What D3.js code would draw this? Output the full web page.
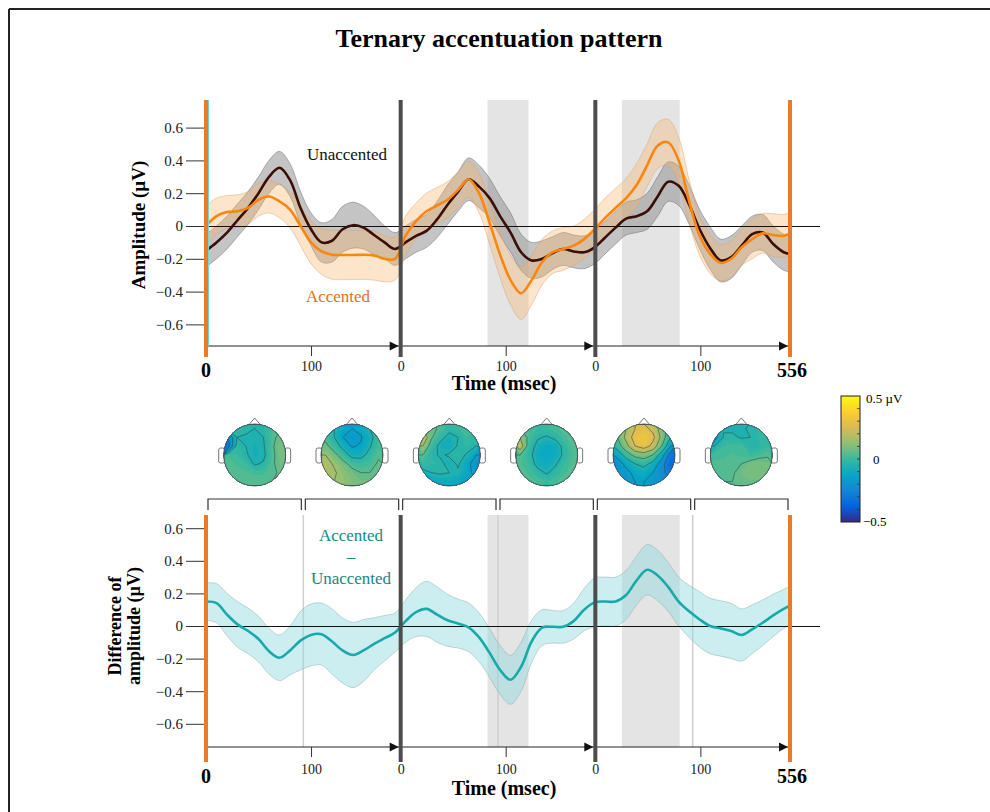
<!DOCTYPE html>
<html>
<head>
<meta charset="utf-8">
<script src="https://cdn.jsdelivr.net/npm/d3@7"></script>
<style>
  body { margin: 0; background: #fff; }
  svg { font-family: "Liberation Serif", "Times New Roman", serif; }
</style>
</head>
<body>
<svg width="990" height="812"></svg>
<script>
// ---- data ----
// shared time grid in ms (three beats of 185.3 ms each)
var times = [0,10,20,30,40,50,60,70,80,90,100,110,120,130,140,150,160,170,180,190,
  200,210,220,230,240,250,260,270,280,290,300,310,320,330,340,350,360,370,380,390,
  400,410,420,430,440,450,460,470,480,490,500,510,520,530,540,550,556];

var unaccented = [-0.15,-0.10,-0.04,0.035,0.11,0.20,0.30,0.355,0.28,0.11,-0.02,-0.10,-0.09,-0.02,0.005,-0.01,-0.055,-0.10,-0.14,-0.10,
  -0.06,-0.03,0.04,0.13,0.21,0.285,0.24,0.17,0.06,-0.04,-0.16,-0.21,-0.20,-0.165,-0.14,-0.155,-0.16,-0.13,-0.07,-0.01,
  0.045,0.06,0.09,0.18,0.27,0.245,0.13,-0.02,-0.135,-0.21,-0.19,-0.12,-0.05,-0.04,-0.11,-0.16,-0.17];
var unaccentedErr = [0.10,0.10,0.10,0.10,0.10,0.10,0.10,0.10,0.10,0.10,0.10,0.12,0.13,0.14,0.14,0.13,0.12,0.10,0.10,0.10,
  0.10,0.10,0.11,0.12,0.12,0.13,0.13,0.12,0.12,0.12,0.11,0.11,0.11,0.10,0.10,0.10,0.10,0.10,0.10,0.10,
  0.10,0.10,0.11,0.12,0.12,0.12,0.12,0.12,0.13,0.13,0.13,0.12,0.11,0.11,0.11,0.11,0.11];

var accented = [0.0,0.06,0.085,0.09,0.11,0.16,0.18,0.15,0.10,0.0,-0.10,-0.155,-0.175,-0.177,-0.177,-0.175,-0.18,-0.20,-0.20,-0.06,
  0.03,0.09,0.125,0.16,0.22,0.285,0.20,0.02,-0.175,-0.33,-0.41,-0.33,-0.22,-0.16,-0.14,-0.12,-0.08,-0.02,0.05,0.11,
  0.17,0.25,0.37,0.49,0.51,0.40,0.15,-0.06,-0.17,-0.225,-0.20,-0.13,-0.08,-0.045,-0.055,-0.06,-0.045];
var accentedErr = [0.12,0.11,0.10,0.10,0.10,0.10,0.10,0.10,0.11,0.12,0.13,0.14,0.15,0.15,0.15,0.15,0.15,0.14,0.13,0.12,
  0.11,0.11,0.11,0.11,0.11,0.11,0.12,0.13,0.14,0.15,0.16,0.15,0.14,0.13,0.13,0.12,0.12,0.12,0.12,0.12,
  0.12,0.13,0.13,0.14,0.14,0.14,0.13,0.12,0.12,0.11,0.11,0.11,0.12,0.12,0.13,0.13,0.13];

var difference = [0.15,0.14,0.07,0.01,-0.03,-0.08,-0.155,-0.195,-0.15,-0.09,-0.055,-0.05,-0.095,-0.15,-0.178,-0.15,-0.11,-0.075,-0.04,0.03,
  0.085,0.105,0.07,0.035,0.015,-0.008,-0.07,-0.165,-0.27,-0.33,-0.25,-0.095,-0.01,-0.005,-0.005,0.03,0.10,0.145,0.15,0.15,
  0.19,0.28,0.345,0.31,0.24,0.15,0.09,0.04,0.0,-0.015,-0.03,-0.055,-0.02,0.02,0.065,0.105,0.125];
var differenceErr = [0.115,0.12,0.13,0.14,0.14,0.14,0.14,0.14,0.15,0.18,0.19,0.19,0.20,0.20,0.20,0.19,0.16,0.14,0.12,0.13,
  0.15,0.17,0.17,0.16,0.15,0.15,0.15,0.15,0.15,0.15,0.15,0.13,0.11,0.10,0.10,0.11,0.13,0.15,0.15,0.15,
  0.15,0.15,0.155,0.155,0.15,0.15,0.16,0.17,0.17,0.17,0.17,0.16,0.15,0.14,0.13,0.12,0.12];

// significant windows (ms, absolute)
var sigWindows = [[268, 307], [396, 451]];

var yTicks = [-0.6, -0.4, -0.2, 0, 0.2, 0.4, 0.6];
var totalMs = 556;
var beatMs = totalMs / 3;
var timeTicks = [100, beatMs, beatMs + 100, 2 * beatMs, 2 * beatMs + 100];

// topographies, one per half beat: rows front -> back, columns left -> right (µV)
var topoGrids = [
  [[0.02,0.0,-0.03,-0.05,-0.03,0.02,0.05],
   [-0.25,-0.05,-0.06,-0.07,-0.05,0.03,0.08],
   [-0.30,-0.02,-0.05,-0.08,-0.06,0.04,0.10],
   [0.02,0.0,-0.04,-0.08,-0.07,0.03,0.10],
   [0.04,0.02,0.0,-0.06,-0.04,0.04,0.08],
   [0.05,0.04,0.03,0.02,0.02,0.04,0.06],
   [0.06,0.05,0.04,0.04,0.04,0.05,0.06]],
  [[0.0,-0.05,-0.12,-0.15,-0.12,-0.05,0.0],
   [0.02,-0.05,-0.15,-0.18,-0.16,-0.08,0.0],
   [0.08,0.0,-0.08,-0.16,-0.14,-0.06,0.02],
   [0.15,0.08,0.0,-0.08,-0.08,-0.02,0.04],
   [0.18,0.14,0.08,0.02,0.0,0.02,0.06],
   [0.18,0.16,0.12,0.08,0.05,0.05,0.08],
   [0.15,0.15,0.13,0.10,0.08,0.08,0.08]],
  [[0.10,0.08,0.03,-0.02,0.0,0.02,0.0],
   [0.25,0.06,-0.02,-0.08,-0.05,0.0,-0.02],
   [0.15,0.0,-0.08,-0.10,-0.04,-0.02,-0.05],
   [0.05,-0.03,-0.06,-0.04,-0.02,-0.06,-0.15],
   [0.0,-0.02,-0.03,-0.08,-0.04,-0.12,-0.20],
   [-0.08,-0.05,-0.04,-0.05,-0.06,-0.12,-0.18],
   [-0.15,-0.12,-0.10,-0.10,-0.12,-0.15,-0.15]],
  [[0.05,0.03,0.0,0.0,0.02,0.04,0.05],
   [0.15,0.02,-0.04,-0.06,-0.03,0.02,0.05],
   [0.22,0.0,-0.08,-0.11,-0.10,-0.02,0.04],
   [0.05,-0.02,-0.10,-0.11,-0.10,-0.03,0.03],
   [0.03,0.0,-0.08,-0.10,-0.06,0.0,0.04],
   [0.04,0.02,-0.02,-0.06,-0.02,0.02,0.04],
   [0.05,0.04,0.02,0.0,0.02,0.04,0.05]],
  [[0.05,0.15,0.25,0.28,0.22,0.10,0.0],
   [0.05,0.18,0.30,0.33,0.28,0.12,-0.05],
   [0.0,0.12,0.25,0.30,0.22,0.05,-0.15],
   [-0.12,0.0,0.08,0.10,0.05,-0.10,-0.30],
   [-0.20,-0.12,-0.05,-0.02,-0.08,-0.20,-0.35],
   [-0.20,-0.18,-0.12,-0.10,-0.15,-0.22,-0.30],
   [-0.18,-0.18,-0.15,-0.15,-0.18,-0.20,-0.22]],
  [[-0.05,-0.06,-0.07,-0.06,-0.04,-0.02,0.0],
   [-0.20,-0.04,-0.03,-0.06,-0.05,-0.02,0.0],
   [-0.05,0.0,0.01,0.02,-0.04,-0.03,0.0],
   [0.02,0.02,0.03,0.02,0.0,0.02,0.04],
   [0.03,0.03,0.03,0.05,0.08,0.10,0.08],
   [0.04,0.04,0.04,0.08,0.10,0.10,0.08],
   [0.05,0.05,0.05,0.06,0.07,0.07,0.06]]
];

// parula-like colour map for -0.5 .. 0.5 µV
var parula = ['#352a87','#0363e1','#1485d4','#06a7c6','#38b99e','#92bf73','#d9ba56','#fcce2e','#f9fb0e'];

// ---- drawing ----
var svg = d3.select('svg');
var defs = svg.append('defs');

var x = d3.scaleLinear().domain([0, totalMs]).range([206, 790]);
var colour = d3.scaleLinear()
  .domain(parula.map(function(c, i) { return -0.5 + i * 0.125; }))
  .range(parula).clamp(true);

// frame (top and left edge visible)
svg.append('line').attr('x1', 9).attr('x2', 990).attr('y1', 9).attr('y2', 9)
  .attr('stroke', '#222').attr('stroke-width', 2);
svg.append('line').attr('x1', 9).attr('x2', 9).attr('y1', 9).attr('y2', 812)
  .attr('stroke', '#222').attr('stroke-width', 2);

svg.append('text').attr('x', 499).attr('y', 47).attr('text-anchor', 'middle')
  .style('font-size', '26px').style('font-weight', 'bold')
  .text('Ternary accentuation pattern');

var rows = times.map(function(t, i) {
  return { t: t, u: unaccented[i], ue: unaccentedErr[i], a: accented[i], ae: accentedErr[i],
           d: difference[i], de: differenceErr[i] };
});

var fmt = function(v) { return v === 0 ? '0' : d3.format('.1f')(v); };
var localFmt = function(d) {
  var k = Math.floor(d / beatMs + 1e-6);
  return String(Math.round(d - k * beatMs));
};

function drawPanel(p) {
  var g = svg.append('g');
  var y = p.y;

  // significant windows
  g.selectAll('rect.sig').data(sigWindows).enter().append('rect')
    .attr('x', function(d) { return x(d[0]); })
    .attr('width', function(d) { return x(d[1]) - x(d[0]); })
    .attr('y', p.top).attr('height', p.axisY - p.top)
    .attr('fill', '#e4e4e4');

  // half-beat separators (bottom panel only)
  if (p.halfLines) {
    g.selectAll('line.half').data([0.5, 1.5, 2.5]).enter().append('line')
      .attr('x1', function(d) { return x(d * beatMs); })
      .attr('x2', function(d) { return x(d * beatMs); })
      .attr('y1', p.top).attr('y2', p.axisY)
      .attr('stroke', '#cfcfcf').attr('stroke-width', 1.5);
  }

  // bands
  p.series.forEach(function(s) {
    var area = d3.area().curve(d3.curveCatmullRom)
      .x(function(d) { return x(d.t); })
      .y0(function(d) { return y(d[s.key] - d[s.err]); })
      .y1(function(d) { return y(d[s.key] + d[s.err]); });
    g.append('path').datum(rows).attr('d', area)
      .attr('fill', s.band).attr('fill-opacity', s.bandOpacity)
      .attr('stroke', s.edge).attr('stroke-width', 0.8).attr('stroke-opacity', 0.6);
  });

  // zero line
  g.append('line').attr('x1', x(0)).attr('x2', 820)
    .attr('y1', y(0) + 0.5).attr('y2', y(0) + 0.5)
    .attr('stroke', '#111').attr('stroke-width', 1.2);

  // mean lines
  p.series.forEach(function(s) {
    var line = d3.line().curve(d3.curveCatmullRom)
      .x(function(d) { return x(d.t); })
      .y(function(d) { return y(d[s.key]); });
    g.append('path').datum(rows).attr('d', line)
      .attr('fill', 'none').attr('stroke', s.color).attr('stroke-width', 2.6);
  });

  // y axis
  var ya = g.append('g').attr('transform', 'translate(' + x(0) + ',0)')
    .call(d3.axisLeft(y).tickValues(yTicks).tickSize(20).tickPadding(3).tickFormat(fmt));
  ya.select('.domain').remove();
  ya.selectAll('line').attr('stroke', '#333');
  ya.selectAll('text').style('font-family', '"Liberation Serif", serif').style('font-size', '15px').attr('fill', '#222');

  // time axis: one arrow per beat
  g.append('line').attr('x1', x(0)).attr('x2', x(totalMs))
    .attr('y1', p.axisY).attr('y2', p.axisY).attr('stroke', '#222').attr('stroke-width', 1);
  [1, 2, 3].forEach(function(b) {
    var tip = x(b * beatMs) - 2;
    g.append('path')
      .attr('d', 'M' + tip + ',' + p.axisY + 'L' + (tip - 9) + ',' + (p.axisY - 4.5) + 'L' + (tip - 9) + ',' + (p.axisY + 4.5) + 'Z')
      .attr('fill', '#111');
  });
  var xa = g.append('g').attr('transform', 'translate(0,' + p.axisY + ')')
    .call(d3.axisBottom(x).tickValues(timeTicks).tickSize(10).tickPadding(p.tickPad).tickFormat(localFmt));
  xa.select('.domain').remove();
  xa.selectAll('line').attr('stroke', '#333');
  xa.selectAll('text').style('font-family', '"Liberation Serif", serif').style('font-size', '14px').attr('fill', '#222');

  // beat boundaries
  var bounds = [0, beatMs, 2 * beatMs, totalMs];
  g.selectAll('line.bound').data(bounds).enter().append('line')
    .attr('x1', function(d) { return x(d); }).attr('x2', function(d) { return x(d); })
    .attr('y1', p.top).attr('y2', p.bottom)
    .attr('stroke', function(d, i) { return (i === 0 || i === 3) ? '#ea7a2a' : '#4d4d4d'; })
    .attr('stroke-width', 4);
  if (p.cyanEdge) {
    g.append('line').attr('x1', x(0) + 2.5).attr('x2', x(0) + 2.5)
      .attr('y1', p.top).attr('y2', p.axisY).attr('stroke', '#6fd6d6').attr('stroke-width', 1);
  }

  // bold end labels
  g.append('text').attr('x', x(0)).attr('y', p.endLabelY).attr('text-anchor', 'middle')
    .style('font-size', '20px').style('font-weight', 'bold').text('0');
  g.append('text').attr('x', x(totalMs) + 2).attr('y', p.endLabelY).attr('text-anchor', 'middle')
    .style('font-size', '20px').style('font-weight', 'bold').text('556');
  g.append('text').attr('x', 504).attr('y', p.timeLabelY).attr('text-anchor', 'middle')
    .style('font-size', '20px').style('font-weight', 'bold').text('Time (msec)');
  return g;
}

// top panel: ERPs
var yTop = d3.scaleLinear().domain([-0.6, 0.6]).range([324.4, 127.6]);
drawPanel({
  y: yTop, top: 100, bottom: 357, axisY: 346, tickPad: 5, endLabelY: 377, timeLabelY: 390,
  cyanEdge: true,
  series: [
    { key: 'u', err: 'ue', color: '#3a0f08', band: '#8a8a8a', bandOpacity: 0.5, edge: '#666' },
    { key: 'a', err: 'ae', color: '#f7870f', band: '#f9b46a', bandOpacity: 0.35, edge: '#d8a070' }
  ]
});
svg.append('text').attr('transform', 'translate(145,225) rotate(-90)').attr('text-anchor', 'middle')
  .style('font-size', '19px').style('font-weight', 'bold').text('Amplitude (µV)');
svg.append('text').attr('x', 347).attr('y', 160).attr('text-anchor', 'middle')
  .style('font-size', '17px').attr('fill', '#111').text('Unaccented');
svg.append('text').attr('x', 338).attr('y', 302).attr('text-anchor', 'middle')
  .style('font-size', '17px').attr('fill', '#e2711d').text('Accented');

// bottom panel: difference wave
var yBot = d3.scaleLinear().domain([-0.6, 0.6]).range([723.8, 528.2]);
drawPanel({
  y: yBot, top: 515, bottom: 762, axisY: 747, tickPad: 7, endLabelY: 783, timeLabelY: 795,
  halfLines: true,
  series: [
    { key: 'd', err: 'de', color: '#19a9a9', band: '#8fdadd', bandOpacity: 0.45, edge: '#8aa' }
  ]
});
var yl = svg.append('text').attr('transform', 'translate(0,626) rotate(-90)').attr('text-anchor', 'middle')
  .style('font-size', '18px').style('font-weight', 'bold');
yl.append('tspan').attr('x', 0).attr('y', 121).text('Difference of');
yl.append('tspan').attr('x', 0).attr('y', 140).text('amplitude (µV)');
var leg = svg.append('text').attr('text-anchor', 'middle').style('font-size', '17px').attr('fill', '#1d8585');
leg.append('tspan').attr('x', 351).attr('y', 541).text('Accented');
leg.append('tspan').attr('x', 351).attr('y', 562).text('–');
leg.append('tspan').attr('x', 351).attr('y', 584).text('Unaccented');

// brackets over each half beat
var halves = d3.range(6);
svg.selectAll('path.bracket').data(halves).enter().append('path')
  .attr('d', function(k) {
    var a = x(k * beatMs / 2) + 2, b = x((k + 1) * beatMs / 2) - 2;
    return 'M' + a + ',510V499H' + b + 'V510';
  })
  .attr('fill', 'none').attr('stroke', '#333').attr('stroke-width', 1.2);

// topographic maps
var n = 7, r = 31, cy = 455;
var fillLevels = d3.range(-0.6, 0.6, 0.025);
var lineLevels = [-0.35, -0.25, -0.15, -0.05, 0.05, 0.15, 0.25];
topoGrids.forEach(function(grid, k) {
  var cx = x((k + 0.5) * beatMs / 2);
  var values = [].concat.apply([], grid);
  var g = svg.append('g');
  // nose and ears
  g.append('path').attr('d', 'M' + (cx - 6) + ',' + (cy - r + 1) + 'L' + cx + ',' + (cy - r - 6) + 'L' + (cx + 6) + ',' + (cy - r + 1))
    .attr('fill', '#fff').attr('stroke', '#777').attr('stroke-width', 1);
  [-1, 1].forEach(function(sd) {
    g.append('rect').attr('x', sd < 0 ? cx - r - 5 : cx + r - 1).attr('y', cy - 7)
      .attr('width', 6).attr('height', 15).attr('rx', 2)
      .attr('fill', '#fff').attr('stroke', '#777').attr('stroke-width', 1);
  });
  defs.append('clipPath').attr('id', 'head' + k)
    .append('circle').attr('cx', cx).attr('cy', cy).attr('r', r);
  var proj = d3.geoIdentity().scale(2 * r / n).translate([cx - r, cy - r]);
  var path = d3.geoPath(proj);
  var inner = g.append('g').attr('clip-path', 'url(#head' + k + ')');
  inner.selectAll('path.fill')
    .data(d3.contours().size([n, n]).thresholds(fillLevels)(values))
    .enter().append('path').attr('d', path)
    .attr('fill', function(d) { return colour(d.value + 0.0125); });
  inner.selectAll('path.iso')
    .data(d3.contours().size([n, n]).thresholds(lineLevels)(values))
    .enter().append('path').attr('d', path)
    .attr('fill', 'none').attr('stroke', '#2b4a4a').attr('stroke-width', 0.7).attr('stroke-opacity', 0.8);
  g.append('circle').attr('cx', cx).attr('cy', cy).attr('r', r)
    .attr('fill', 'none').attr('stroke', '#555').attr('stroke-width', 0.9);
});

// colour bar
var grad = defs.append('linearGradient').attr('id', 'cbar')
  .attr('x1', 0).attr('y1', 1).attr('x2', 0).attr('y2', 0);
grad.selectAll('stop').data(parula).enter().append('stop')
  .attr('offset', function(d, i) { return (i / (parula.length - 1) * 100) + '%'; })
  .attr('stop-color', function(d) { return d; });
var cbY = d3.scaleLinear().domain([-0.5, 0.5]).range([522, 396]);
svg.append('rect').attr('x', 841).attr('y', cbY(0.5)).attr('width', 19).attr('height', cbY(-0.5) - cbY(0.5))
  .attr('fill', 'url(#cbar)').attr('stroke', '#222').attr('stroke-width', 1);
svg.selectAll('line.cbtick').data(d3.range(-0.4, 0.45, 0.1)).enter().append('line')
  .attr('x1', 857).attr('x2', 860)
  .attr('y1', function(d) { return cbY(d); }).attr('y2', function(d) { return cbY(d); })
  .attr('stroke', '#333').attr('stroke-width', 0.8);
svg.append('text').attr('x', 866).attr('y', 403).style('font-size', '13px').text('0.5 µV');
svg.append('text').attr('x', 873).attr('y', cbY(0) + 5).style('font-size', '13px').text('0');
svg.append('text').attr('x', 863).attr('y', 526).style('font-size', '13px').text('−0.5');
</script>
</body>
</html>
